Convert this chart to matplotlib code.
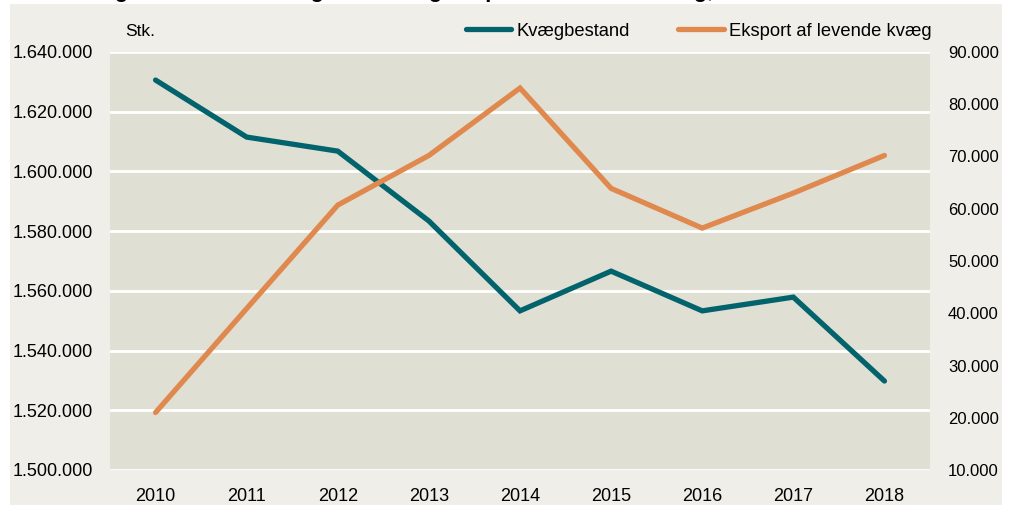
import matplotlib.pyplot as plt
from matplotlib.patches import Rectangle
from matplotlib.ticker import FuncFormatter

plt.rcParams['font.family'] = ['Liberation Sans', 'DejaVu Sans']

aar = ['2010', '2011', '2012', '2013', '2014', '2015', '2016', '2017', '2018']
kvaegbestand = [1630600, 1611500, 1606800, 1583400, 1553300, 1566600, 1553300, 1557900, 1529800]
eksport = [21000, 40900, 60700, 70200, 83100, 63900, 56300, 63000, 70200]

venstre_ticks = [1500000, 1520000, 1540000, 1560000, 1580000, 1600000, 1620000, 1640000]
hoejre_ticks = [10000, 20000, 30000, 40000, 50000, 60000, 70000, 80000, 90000]

teal = '#02636c'
orange = '#e0894f'
panel = '#efeee8'
plot_bg = '#e0dfd4'


def dk(v, pos=None):  # tusindtals-punktum
    return f'{int(v):,}'.replace(',', '.')


fig = plt.figure(figsize=(10.12, 5.15), dpi=100)
fig.patch.set_facecolor('white')
fig.patches.append(Rectangle((10 / 1012, 1 - 505 / 515), 992 / 1012, 501 / 515,
                             transform=fig.transFigure, facecolor=panel,
                             edgecolor='none', zorder=-10))

# afskaaret titel i toppen
fig.text(95 / 1012, 1 + 3 / 515, 'Figur 2.5 Dansk kvægbestand og eksport af levende kvæg, 2010-2018',
         fontsize=16, fontweight='bold', va='baseline', ha='left')

ax = fig.add_axes([110 / 1012, 1 - 470 / 515, 820 / 1012, 418 / 515])
ax.set_facecolor(plot_bg)
x = list(range(len(aar)))
l1, = ax.plot(x, kvaegbestand, color=teal, lw=3.8, solid_capstyle='round',
              solid_joinstyle='miter', zorder=3, label='Kvægbestand')
ax.set_ylim(1500000, 1640000)
ax.set_yticks(venstre_ticks)
ax.yaxis.set_major_formatter(FuncFormatter(dk))
ax.set_xlim(-0.5, len(aar) - 0.5)
ax.set_xticks(x)
ax.set_xticklabels(aar)
ax.grid(axis='y', color='white', lw=2)
ax.set_axisbelow(True)
for s in ax.spines.values():
    s.set_visible(False)
ax.tick_params(axis='y', length=0, pad=12, labelsize=13)
ax.tick_params(axis='x', length=0, pad=13, labelsize=13)

ax2 = ax.twinx()
l2, = ax2.plot(x, eksport, color=orange, lw=3.8, solid_capstyle='round',
               solid_joinstyle='miter', zorder=3, label='Eksport af levende kvæg')
ax2.set_ylim(10000, 90000)
ax2.set_yticks(hoejre_ticks)
ax2.yaxis.set_major_formatter(FuncFormatter(dk))
for s in ax2.spines.values():
    s.set_visible(False)
ax2.tick_params(axis='y', length=0, pad=13, labelsize=12)

fig.text(125 / 1012, 1 - 31 / 515, 'Stk.', fontsize=12.5, va='center', ha='left')

fig.legend(handles=[l1, l2], loc='center right', bbox_to_anchor=(932 / 1012, 1 - 31 / 515),
           ncol=2, frameon=False, fontsize=13.2, handlelength=2.5, handletextpad=0.3,
           columnspacing=2.6, borderpad=0, borderaxespad=0)

fig.savefig('out.png', dpi=100, facecolor=fig.get_facecolor())
